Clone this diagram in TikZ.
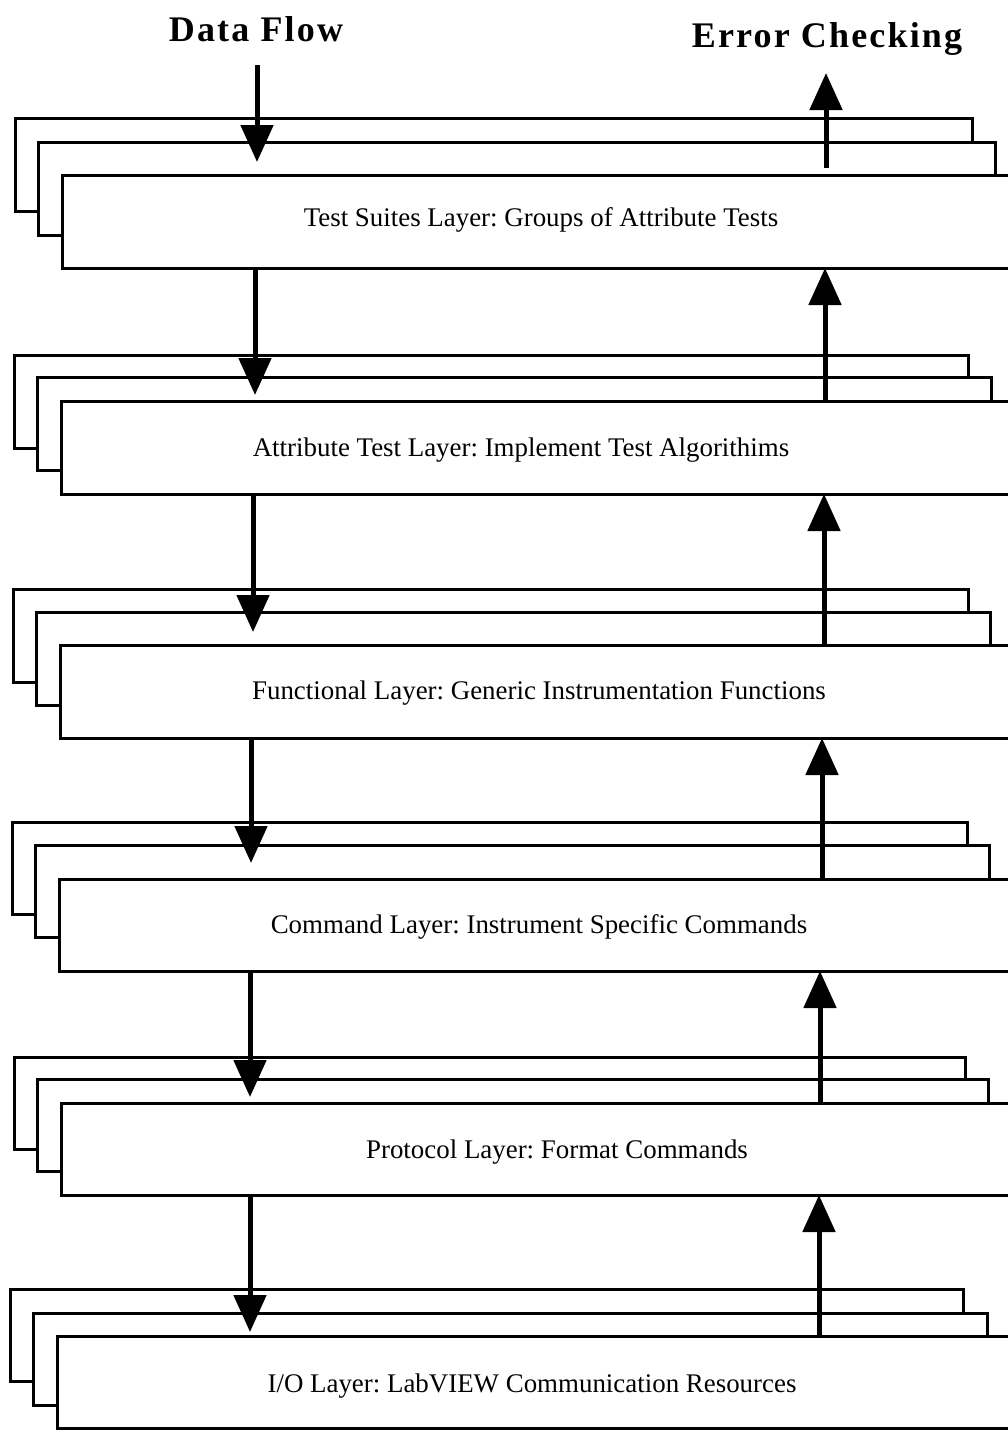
\documentclass[tikz,border=0pt]{standalone}
\usepackage{fontspec}
\setmainfont{Liberation Serif}
\newfontfamily\titlefont[LetterSpace=6]{Liberation Serif}
\usetikzlibrary{arrows.meta}
\frenchspacing
\tikzset{
  card/.style={draw, line width=3pt, fill=white, inner sep=0pt, outer sep=0pt, anchor=north west},
  lbl/.style={font=\fontsize{26.9}{30}\selectfont, inner sep=0pt},
  ttl/.style={font=\titlefont\bfseries\fontsize{36}{40}\selectfont, inner sep=0pt, anchor=base},
  flow/.style={line width=5pt, -{Triangle[width=32pt,length=37pt]}},
}
% #1 name, #2 back left x, #3 back top, #4 middle top, #5 front top, #6 back right, #7 middle right, #8 height
\newcommand{\mklayer}[8]{%
  \node[card, minimum width={(#6-#2)*1pt}, minimum height=#8pt] (#1b) at (#2,#3) {};
  \node[card, minimum width={(#7-#2-23)*1pt}, minimum height=#8pt] (#1m) at ({#2+23},#4) {};
  \node[card, minimum width={(1040-#2-47)*1pt}, minimum height=#8pt] (#1f) at ({#2+47},#5) {};
}
\begin{document}
\begin{tikzpicture}[x=1pt,y=-1pt]
\useasboundingbox[fill=white] (0,0) rectangle (1007,1432);

\mklayer{L1}{15}{118}{142}{175}{972}{995}{93}
\mklayer{L2}{14}{355}{377}{401}{968}{991}{93}
\mklayer{L3}{13}{589}{612}{645}{968}{990}{93}
\mklayer{L4}{12}{822}{845}{879}{967}{989}{92}
\mklayer{L5}{14}{1057}{1079}{1103}{965}{988}{92}
\mklayer{L6}{10}{1289}{1313}{1336}{963}{987}{92}

\node[lbl] (t1) at (541,220) {Test Suites Layer: Groups of Attribute Tests};
\node[lbl] (t2) at (521,450) {Attribute Test Layer: Implement Test Algorithims};
\node[lbl] (t3) at (539,693) {Functional Layer: Generic Instrumentation Functions};
\node[lbl] (t4) at (539,927) {Command Layer: Instrument Specific Commands};
\node[lbl] (t5) at (557,1152) {Protocol Layer: Format Commands};
\node[lbl] (t6) at (532,1386) {I/O Layer: LabVIEW Communication Resources};

\node[ttl] (df) at (256,41) {Data Flow};
\node[ttl] (ec) at (827,47) {Error Checking};

\coordinate (d0) at (257,65);
\coordinate (d1) at (255,0);
\coordinate (d2) at (253,0);
\coordinate (d3) at (251,0);
\coordinate (d4) at (250,0);
\coordinate (d5) at (250,0);
\coordinate (e0) at (826,73);
\coordinate (e1) at (825,0);
\coordinate (e2) at (824,0);
\coordinate (e3) at (822,0);
\coordinate (e4) at (820,0);
\coordinate (e5) at (819,0);

% data flow arrows
\draw[flow, shorten >=13pt] (d0) -- (d0 |- L1f.north);
\draw[flow, shorten >=6pt] (L1f.south -| d1) -- (L2f.north -| d1);
\draw[flow, shorten >=13pt] (L2f.south -| d2) -- (L3f.north -| d2);
\draw[flow, shorten >=16pt] (L3f.south -| d3) -- (L4f.north -| d3);
\draw[flow, shorten >=6pt] (L4f.south -| d4) -- (L5f.north -| d4);
\draw[flow, shorten >=4pt] (L5f.south -| d5) -- (L6f.north -| d5);

% error checking arrows
\draw[flow, shorten <=7pt] (L1f.north -| e0) -- (e0);
\draw[flow] (L2f.north -| e1) -- (L1f.south -| e1);
\draw[flow] (L3f.north -| e2) -- (L2f.south -| e2);
\draw[flow] (L4f.north -| e3) -- (L3f.south -| e3);
\draw[flow] (L5f.north -| e4) -- (L4f.south -| e4);
\draw[flow] (L6f.north -| e5) -- (L5f.south -| e5);
\end{tikzpicture}
\end{document}
